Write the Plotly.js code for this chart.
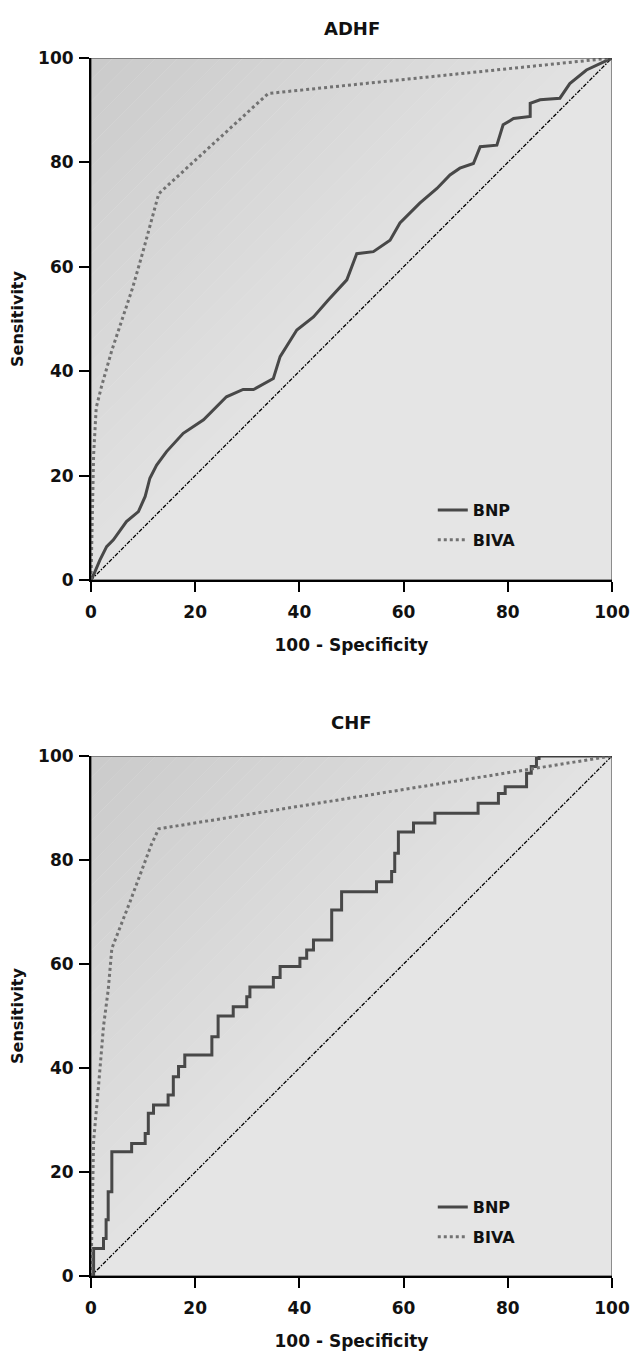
<!DOCTYPE html>
<html>
<head>
<meta charset="utf-8">
<script src="https://cdn.plot.ly/plotly-3.0.1.min.js"></script>
<style>html,body{margin:0;padding:0;background:#fff;}#chart{width:632px;height:1360px;}</style>
</head>
<body>
<div id="chart"></div>
<script>
// ---- data ----
const panelTitles = ["ADHF", "CHF"];
const seriesNames = ["BNP", "BIVA"];
const xTicks = [0, 20, 40, 60, 80, 100];
const yTicks = [0, 20, 40, 60, 80, 100];

// ADHF
const adhfBnpX = [0,0.5,1.7,3,4.3,6.8,9.1,10.4,11.3,12.6,14.5,17.7,21.6,26,29.2,31.2,35,36.3,39.5,42.7,45.5,47.8,49.1,51,54.2,57.4,59.3,63.1,66.4,68.9,70.8,73.4,74.7,77.9,79.1,81.1,84.3,84.3,86.2,90,91.9,95.1,97.7,100];
const adhfBnpY = [0,1,3.8,6.4,7.7,11.2,13.1,16,19.5,22,24.6,28.1,30.7,35.1,36.5,36.5,38.6,42.8,47.9,50.4,53.6,56.2,57.5,62.5,62.9,65.1,68.4,72.2,75,77.6,78.9,79.8,83,83.3,87.2,88.4,88.8,91.3,92,92.3,95.1,97.7,99,100];
const adhfBivaX = [0,0.2,0.5,1,2,4,6,8,10,13,34,100];
const adhfBivaY = [0,10,24,33,37,44,50,56,63,74,93.2,100];

// CHF
const chfBnpX = [0,0.5,2.4,2.9,3.3,4,7.8,10.4,11,12,14.8,15.8,16.8,18,23.2,24.4,27.3,29.9,30.5,35,36.3,40.1,41.4,42.7,46.2,48.1,54.8,57.7,58.3,59,61.9,66,74.3,78.2,79.5,83.6,84.5,85.5,86,100];
const chfBnpY = [0,5.3,7.2,10.8,16.2,23.9,25.5,27.4,31.3,32.9,34.8,38.3,40.3,42.5,46,50,51.8,53.7,55.6,57.4,59.5,61.1,62.7,64.6,70.4,73.9,75.8,77.8,81.3,85.4,87.1,89,90.9,92.8,94.1,96.7,98,99.5,100,100];
const chfBivaX = [0,0.3,0.5,1.4,2.4,3.3,4,7.5,11.6,13,100];
const chfBivaY = [0,15,26,36,48,55,63,72,83,86,100];

const refX = [0, 100];
const refY = [0, 100];

// ---- styling ----
const FONT = "'DejaVu Sans', sans-serif";
const bnpLine = {color: "#484848", width: 3};
const bivaLine = {color: "#727272", width: 3, dash: "dot"};
const refLine = {color: "#000", width: 1.3, dash: "4px,1.5px,1.5px,1.5px"};

function traces(xa, ya, bx, by, vx, vy, leg, bnpShape) {
  return [
    {x: refX, y: refY, xaxis: xa, yaxis: ya, mode: "lines", line: refLine, showlegend: false, hoverinfo: "skip"},
    {x: bx, y: by, xaxis: xa, yaxis: ya, mode: "lines", name: seriesNames[0], line: Object.assign({shape: bnpShape}, bnpLine), legend: leg, legendgroup: leg + "a"},
    {x: vx, y: vy, xaxis: xa, yaxis: ya, mode: "lines", name: seriesNames[1], line: bivaLine, legend: leg, legendgroup: leg + "b"}
  ];
}

const data = [].concat(
  traces("x", "y", adhfBnpX, adhfBnpY, adhfBivaX, adhfBivaY, "legend", "linear"),
  traces("x2", "y2", chfBnpX, chfBnpY, chfBivaX, chfBivaY, "legend2", "hv")
);

// gradient bands above the diagonal
function bands(xr, yr) {
  const out = [];
  const n = 24;
  const c0 = [0xe2, 0xe2, 0xe2], c1 = [0xcb, 0xcb, 0xcb];
  for (let i = 0; i < n; i++) {
    const d1 = 100 * i / n, d2 = 100 * (i + 1) / n;
    const t = (i + 0.5) / n;
    const c = c0.map((v, k) => Math.round(v + (c1[k] - v) * t));
    out.push({
      type: "path", xref: xr, yref: yr, layer: "below",
      path: `M0,${d1} L${100 - d1},100 L${100 - d2},100 L0,${d2} Z`,
      fillcolor: `rgb(${c.join(",")})`, line: {width: 0}
    });
  }
  out.push({type: "rect", xref: xr, yref: yr, x0: 0, x1: 100, y0: 0, y1: 100, layer: "above",
    line: {color: "#333", width: 1}});
  return out;
}

function xaxis(dom) {
  return {
    domain: [0, 1], range: [0, 100], tickvals: xTicks, ticktext: xTicks.map(String),
    showgrid: false, zeroline: false, showline: true, linecolor: "#000", linewidth: 2,
    ticks: "outside", ticklen: 10, tickwidth: 2, tickcolor: "#000", ticklabelstandoff: 6,
    tickfont: {family: FONT, size: 17, color: "#111", weight: 700},
    title: {text: "100 - Specificity", font: {family: FONT, size: 17, color: "#111", weight: 700}, standoff: 18},
    anchor: dom, fixedrange: true
  };
}
function yaxis(dom, anchor) {
  return {
    domain: dom, range: [0, 100], tickvals: yTicks, ticktext: yTicks.map(String),
    showgrid: false, zeroline: false, showline: true, linecolor: "#000", linewidth: 2,
    ticks: "outside", ticklen: 10, tickwidth: 2, tickcolor: "#000", ticklabelstandoff: 2,
    tickfont: {family: FONT, size: 17, color: "#111", weight: 700},
    title: {text: "Sensitivity", font: {family: FONT, size: 16, color: "#111", weight: 700}, standoff: 10},
    anchor: anchor, fixedrange: true
  };
}

const H = 1360;
const topDom = [1 - 580 / H, 1 - 58 / H];
const botDom = [1 - 1276 / H, 1 - 756 / H];

const legendBase = {
  bgcolor: "rgba(0,0,0,0)", borderwidth: 0,
  font: {family: FONT, size: 16, color: "#111", weight: 700},
  xanchor: "left", yanchor: "top", traceorder: "grouped", tracegroupgap: 6, itemwidth: 30
};

const layout = {
  width: 632, height: 1360,
  margin: {l: 91, r: 20, t: 0, b: 0},
  paper_bgcolor: "#fff", plot_bgcolor: "#e5e5e5",
  showlegend: true,
  xaxis: xaxis("y"),
  yaxis: yaxis(topDom, "x"),
  xaxis2: xaxis("y2"),
  yaxis2: yaxis(botDom, "x2"),
  legend: Object.assign({x: 0.656, y: 1 - 493 / H}, legendBase),
  legend2: Object.assign({x: 0.656, y: 1 - 1190 / H}, legendBase),
  shapes: [].concat(bands("x", "y"), bands("x2", "y2")),
  annotations: [
    {text: panelTitles[0], xref: "paper", yref: "paper", x: 0.5, y: 1 - 28 / H, yanchor: "middle", showarrow: false,
      font: {family: FONT, size: 18, color: "#111", weight: 700}},
    {text: panelTitles[1], xref: "paper", yref: "paper", x: 0.5, y: 1 - 722 / H, yanchor: "middle", showarrow: false,
      font: {family: FONT, size: 18, color: "#111", weight: 700}}
  ]
};

Plotly.newPlot("chart", data, layout, {displayModeBar: false, staticPlot: true});
</script>
</body>
</html>
